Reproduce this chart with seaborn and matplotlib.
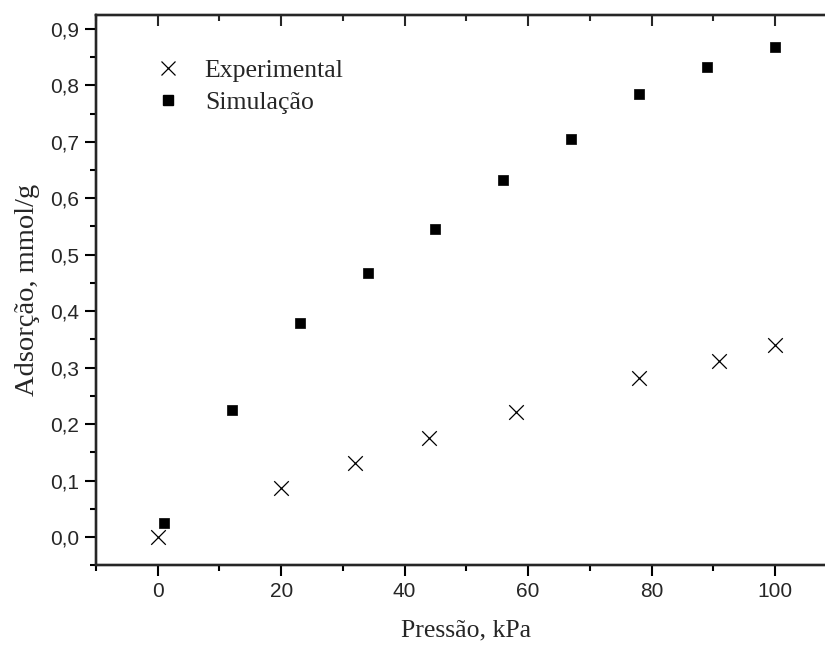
import matplotlib
matplotlib.use("Agg")
import matplotlib.pyplot as plt
import seaborn as sns
import pandas as pd
from matplotlib.ticker import MultipleLocator, FuncFormatter
from matplotlib.lines import Line2D

# Data
exp_x = [0, 20, 32, 44, 58, 78, 91, 100]
exp_y = [0.000, 0.086, 0.131, 0.175, 0.221, 0.281, 0.312, 0.340]
sim_x = [1, 12, 23, 34, 45, 56, 67, 78, 89, 100]
sim_y = [0.025, 0.225, 0.379, 0.467, 0.545, 0.633, 0.705, 0.785, 0.832, 0.867]
series_names = ["Experimental", "Simulação"]
x_label = "Pressão, kPa"
y_label = "Adsorção, mmol/g"

df_exp = pd.DataFrame({"x": exp_x, "y": exp_y})
df_sim = pd.DataFrame({"x": sim_x, "y": sim_y})

sns.set_style("ticks")
plt.rcParams["font.family"] = ["Liberation Sans", "DejaVu Sans"]

fig = plt.figure(figsize=(8.25, 6.48), dpi=100)
ax = fig.add_axes([96/825, 1 - 565.3/648, (836.7-96)/825, (565.3-14.7)/648])

sns.scatterplot(data=df_exp, x="x", y="y", marker="x", color="black",
                s=110, linewidth=0.9, ax=ax, legend=False)
sns.scatterplot(data=df_sim, x="x", y="y", marker="s", color="black",
                s=56, linewidth=0.5, edgecolor="black", ax=ax, legend=False)

ax.set_xlim(-10, 110)
ax.set_ylim(-0.05, 0.925)

ax.xaxis.set_major_locator(MultipleLocator(20))
ax.xaxis.set_minor_locator(MultipleLocator(10))
ax.yaxis.set_major_locator(MultipleLocator(0.1))
ax.yaxis.set_minor_locator(MultipleLocator(0.05))
ax.yaxis.set_major_formatter(FuncFormatter(lambda v, p: f"{v:.1f}".replace(".", ",")))
ax.xaxis.set_major_formatter(FuncFormatter(lambda v, p: f"{v:.0f}"))

for s in ax.spines.values():
    s.set_linewidth(1.6)
    s.set_color("black")

ax.tick_params(axis="both", which="major", length=8, width=1.5, labelsize=15,
               color="black", pad=4, direction="out", top=False, right=False)
ax.tick_params(axis="both", which="minor", length=4.5, width=1.5, color="black",
               direction="out", top=False, right=False)

ax.set_xlabel(x_label, fontsize=18.5, family=["Liberation Serif"], labelpad=13)
ax.set_ylabel(y_label, fontsize=20.5, family=["Liberation Serif"], labelpad=7)

handles = [
    Line2D([], [], marker="x", color="black", linestyle="none", markersize=10.5, markeredgewidth=0.9),
    Line2D([], [], marker="s", color="black", linestyle="none", markersize=7.5),
]
ax.legend(handles, series_names, loc="upper left", bbox_to_anchor=(0.049, 0.962),
          frameon=False, handlelength=1.0, handletextpad=0.92, labelspacing=0.35,
          prop={"family": "Liberation Serif", "size": 18.5})

# Inward ticks for top and right
axt = ax.twiny()
axt.set_xlim(ax.get_xlim())
axt.xaxis.set_major_locator(MultipleLocator(20))
axt.xaxis.set_minor_locator(MultipleLocator(10))
axt.tick_params(axis="x", which="major", direction="in", length=8, width=1.5, labeltop=False)
axt.tick_params(axis="x", which="minor", direction="in", length=4.5, width=1.5)
axr = ax.twinx()
axr.set_ylim(ax.get_ylim())
axr.yaxis.set_major_locator(MultipleLocator(0.1))
axr.yaxis.set_minor_locator(MultipleLocator(0.05))
axr.tick_params(axis="y", which="major", direction="in", length=8, width=1.5, labelright=False)
axr.tick_params(axis="y", which="minor", direction="in", length=4.5, width=1.5)
for a in (axt, axr):
    for s in a.spines.values():
        s.set_linewidth(1.6)

fig.savefig("out.png", dpi=100)
